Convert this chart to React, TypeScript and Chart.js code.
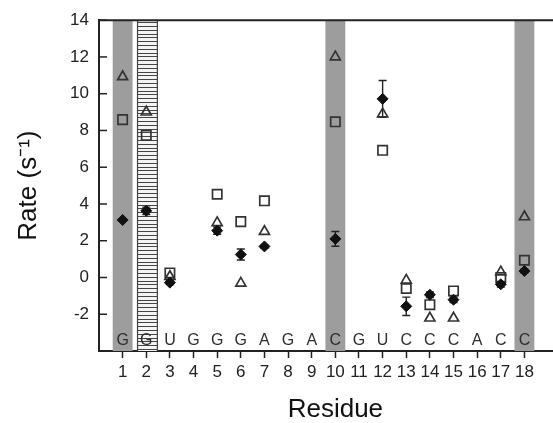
import React, { useEffect, useRef } from "react";
import { Chart, registerables } from "chart.js";

Chart.register(...registerables);

const residues = [1, 2, 3, 4, 5, 6, 7, 8, 9, 10, 11, 12, 13, 14, 15, 16, 17, 18];
const sequence = ["G", "G", "U", "G", "G", "G", "A", "G", "A", "C", "G", "U", "C", "C", "C", "A", "C", "C"];
const diamondValues = [3.13, 3.63, -0.28, null, 2.55, 1.25, 1.69, null, null, 2.1, null, 9.72, -1.57, -0.94, -1.21, null, -0.37, 0.35];
const diamondErrors = [0, 0.2, 0.1, null, 0.2, 0.3, 0.1, null, null, 0.4, null, 1.0, 0.5, 0.15, 0.15, null, 0.15, 0.1];
const squareValues = [8.59, 7.73, 0.25, null, 4.53, 3.04, 4.17, null, null, 8.47, null, 6.92, -0.6, -1.48, -0.73, null, 0.0, 0.94];
const triangleValues = [10.92, 9.0, 0.05, null, 2.98, -0.31, 2.5, null, null, 12.0, null, 8.9, -0.15, -2.21, -2.21, null, 0.3, 3.3];
const shadedResidues = [1, 10, 18];
const hatchedResidues = [2];
const yTickValues = [-2, 0, 2, 4, 6, 8, 10, 12, 14];
const letterY = -3.45;

const FONT = "'Liberation Sans', Arial, Helvetica, sans-serif";
const INK = "#222";

const pts = (vals: (number | null)[]) =>
  residues.map((r, i) => ({ x: r, y: vals[i] })).filter((p) => p.y !== null) as { x: number; y: number }[];

const decorPlugin = {
  id: "decor",
  beforeDatasetsDraw(chart: any) {
    const { ctx, chartArea, scales } = chart;
    const xs = scales.x;
    const ys = scales.y;
    const top = chartArea.top;
    const bottom = chartArea.bottom;
    const half = 0.42;
    ctx.save();
    ctx.fillStyle = "#9d9d9d";
    shadedResidues.forEach((r) => {
      const l = xs.getPixelForValue(r - half);
      const rr = xs.getPixelForValue(r + half);
      ctx.fillRect(l, top, rr - l, bottom - top);
    });
    hatchedResidues.forEach((r) => {
      const l = xs.getPixelForValue(r - half + 0.05);
      const rr = xs.getPixelForValue(r + half + 0.05);
      ctx.fillStyle = "#f4f4f4";
      ctx.fillRect(l, top, rr - l, bottom - top);
      ctx.strokeStyle = "#444";
      ctx.lineWidth = 1;
      for (let y = top + 2; y < bottom; y += 3.8) {
        ctx.beginPath();
        ctx.moveTo(l, Math.round(y) + 0.5);
        ctx.lineTo(rr, Math.round(y) + 0.5);
        ctx.stroke();
      }
      ctx.lineWidth = 1.2;
      ctx.beginPath();
      ctx.moveTo(l, top);
      ctx.lineTo(l, bottom);
      ctx.moveTo(rr, top);
      ctx.lineTo(rr, bottom);
      ctx.stroke();
    });
    ctx.fillStyle = "#2e2e2e";
    ctx.font = `16px ${FONT}`;
    ctx.textAlign = "center";
    ctx.textBaseline = "middle";
    residues.forEach((r, i) => {
      ctx.fillText(sequence[i], xs.getPixelForValue(r), ys.getPixelForValue(letterY));
    });
    ctx.strokeStyle = INK;
    ctx.lineWidth = 1.4;
    residues.forEach((r, i) => {
      const v = diamondValues[i];
      const e = diamondErrors[i];
      if (v === null || !e) return;
      const x = xs.getPixelForValue(r);
      const y1 = ys.getPixelForValue(v + e);
      const y2 = ys.getPixelForValue(v - e);
      ctx.beginPath();
      ctx.moveTo(x, y1);
      ctx.lineTo(x, y2);
      ctx.moveTo(x - 4, y1);
      ctx.lineTo(x + 4, y1);
      ctx.moveTo(x - 4, y2);
      ctx.lineTo(x + 4, y2);
      ctx.stroke();
    });
    ctx.restore();
  },
  afterDraw(chart: any) {
    const { ctx, chartArea, scales } = chart;
    const ys = scales.y;
    ctx.save();
    ctx.strokeStyle = INK;
    ctx.lineWidth = 2;
    ctx.beginPath();
    ctx.moveTo(chartArea.left - 1, chartArea.top);
    ctx.lineTo(chartArea.right, chartArea.top);
    ctx.stroke();
    ctx.lineWidth = 1.5;
    yTickValues.forEach((v) => {
      const y = ys.getPixelForValue(v);
      ctx.beginPath();
      ctx.moveTo(chartArea.left, y);
      ctx.lineTo(chartArea.left + 8, y);
      ctx.stroke();
    });
    ctx.restore();
  },
};

export default function App() {
  const ref = useRef<HTMLCanvasElement | null>(null);
  useEffect(() => {
    if (!ref.current) return;
    const chart = new Chart(ref.current, {
      type: "scatter",
      data: {
        datasets: [
          {
            label: "diamond",
            data: pts(diamondValues),
            pointStyle: "rectRot",
            pointRadius: 5.5,
            backgroundColor: "#111",
            borderColor: "#111",
            borderWidth: 1,
          },
          {
            label: "square",
            data: pts(squareValues),
            pointStyle: "rect",
            pointRadius: 6.6,
            backgroundColor: "rgba(255,255,255,0)",
            borderColor: "#333",
            borderWidth: 1.7,
          },
          {
            label: "triangle",
            data: pts(triangleValues),
            pointStyle: "triangle",
            pointRadius: 5.8,
            backgroundColor: "rgba(255,255,255,0)",
            borderColor: "#333",
            borderWidth: 1.7,
          },
        ],
      },
      options: {
        animation: false,
        responsive: false,
        devicePixelRatio: 1,
        layout: { padding: { top: 16, right: 0, left: 0, bottom: 0 } },
        plugins: { legend: { display: false }, tooltip: { enabled: false } },
        scales: {
          x: {
            type: "linear",
            min: 0,
            max: 20,
            afterBuildTicks: (s: any) => {
              s.ticks = residues.map((v) => ({ value: v }));
            },
            afterFit: (s: any) => {
              s.height = 72;
            },
            border: { display: true, color: INK, width: 2 },
            grid: { drawOnChartArea: false, drawTicks: true, tickLength: 7, color: INK, tickWidth: 1.5 },
            ticks: {
              autoSkip: false,
              maxRotation: 0,
              padding: 4,
              color: INK,
              font: { family: FONT, size: 17 },
              callback: (v: any) => String(v),
            },
            title: {
              display: true,
              text: "Residue",
              color: "#111",
              font: { family: FONT, size: 26 },
              padding: { top: 0, bottom: -2 },
            },
          },
          y: {
            type: "linear",
            min: -4,
            max: 14,
            afterBuildTicks: (s: any) => {
              s.ticks = yTickValues.map((v) => ({ value: v }));
            },
            afterFit: (s: any) => {
              s.width = 99;
            },
            border: { display: true, color: INK, width: 2 },
            grid: { drawOnChartArea: false, drawTicks: false },
            ticks: {
              padding: 10,
              color: INK,
              font: { family: FONT, size: 17 },
              callback: (v: any) => String(v),
            },
            title: {
              display: true,
              text: "Rate (s\u207B\u00B9)",
              color: "#111",
              font: { family: FONT, size: 26 },
              padding: { top: 13, bottom: 0 },
            },
          },
        },
      },
      plugins: [decorPlugin],
    } as any);
    return () => chart.destroy();
  }, []);
  return (
    <div style={{ position: "fixed", left: 0, top: 0, width: 553, height: 423, overflow: "hidden", background: "#fff" }}>
      <canvas ref={ref} width={580} height={423} style={{ display: "block", width: 580, height: 423 }} />
    </div>
  );
}
